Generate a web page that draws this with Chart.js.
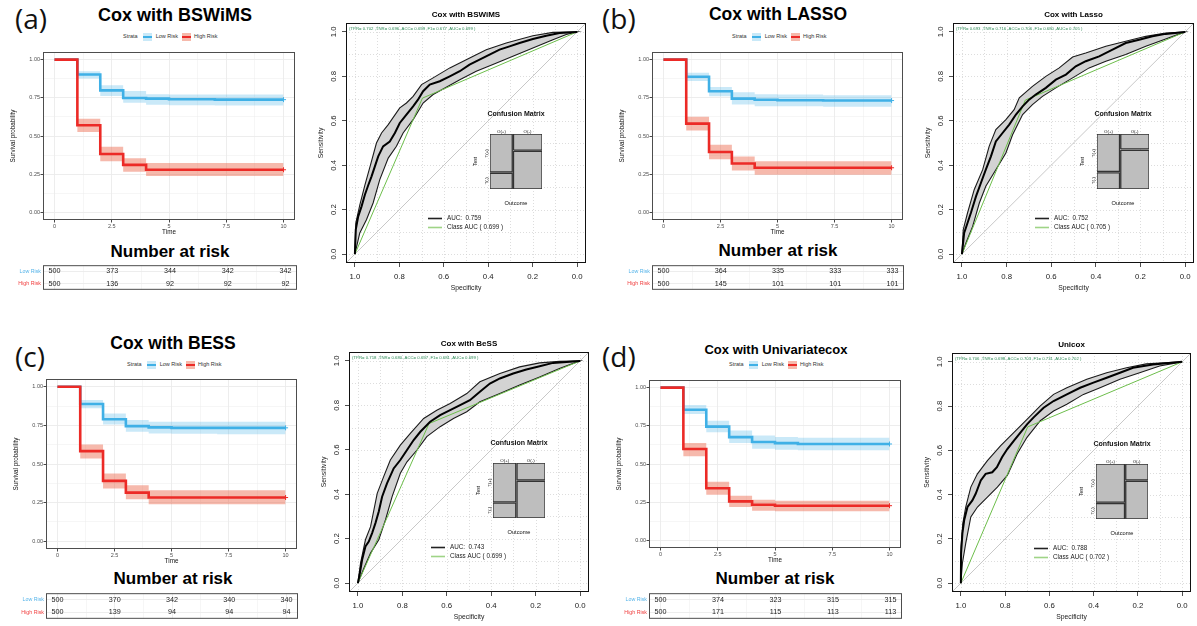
<!DOCTYPE html>
<html>
<head>
<meta charset="utf-8">
<title>Cox models: survival curves and ROC</title>
<script src="https://cdn.jsdelivr.net/npm/chart.js@4.4.1/dist/chart.umd.min.js"></script>
<style>
  body { margin: 0; background: #fff; overflow: hidden; }
  #page { position: relative; width: 1197px; height: 626px; overflow: hidden;
          font-family: "Liberation Sans", Arial, sans-serif; }
  #page canvas { position: absolute; }
  .txt { position: absolute; white-space: nowrap; line-height: 1; }
  .tag { font-family: "Open Sans", "Noto Sans", sans-serif; font-size: 28px; color: #111; }
  .ttl { font-weight: bold; color: #000; transform: translate(-50%, -50%); }
  .leg { display: flex; align-items: center; font-size: 5.5px; color: #333; transform: translateY(-50%); }
  .sw { display: inline-block; width: 9px; height: 8px; }
</style>
</head>
<body>
<div id="page"></div>
<script>
// ---------- shared labels / ticks ----------
const panelTags = ['(a)', '(b)', '(c)', '(d)'];
const kmTitles = ['Cox with BSWiMS', 'Cox with LASSO', 'Cox with BESS', 'Cox with Univariatecox'];
const rocTitles = ['Cox with BSWiMS', 'Cox with Lasso', 'Cox with BeSS', 'Unicox'];
const strata = ['Low Risk', 'High Risk'];
const riskTimes = [0, 2.5, 5, 7.5, 10];
const kmXTicks = [0, 2.5, 5, 7.5, 10];
const kmYTicks = [0, 0.25, 0.5, 0.75, 1];
const rocTicks = [0, 0.2, 0.4, 0.6, 0.8, 1];
const metricNames = ['TPR', 'TNR', 'ACC', 'F1', 'AUC'];

// ---------- (a) BSWiMS ----------
const aLowTime = [0, 1, 2, 3, 4, 5, 7, 10];
const aLowSurv = [1, 0.903, 0.799, 0.749, 0.745, 0.741, 0.738, 0.738];
const aLowUpper = [1, 0.924, 0.832, 0.795, 0.773, 0.772, 0.771, 0.771];
const aLowLower = [1, 0.877, 0.762, 0.717, 0.704, 0.702, 0.700, 0.700];
const aHighTime = [0, 1, 2, 3, 4, 10];
const aHighSurv = [1, 0.570, 0.382, 0.311, 0.279, 0.279];
const aHighUpper = [1, 0.613, 0.430, 0.354, 0.324, 0.324];
const aHighLower = [1, 0.527, 0.335, 0.266, 0.238, 0.238];
const aRiskLow = [500, 373, 344, 342, 342];
const aRiskHigh = [500, 136, 92, 92, 92];
const aRocSpec = [1, 0.996, 0.985, 0.97, 0.955, 0.94, 0.925, 0.91, 0.895, 0.873, 0.843, 0.82, 0.798, 0.768, 0.738, 0.716, 0.693, 0.663, 0.618, 0.573, 0.528, 0.484, 0.439, 0.394, 0.349, 0.304, 0.259, 0.199, 0.139, 0.079, 0];
const aRocSens = [0, 0.11, 0.17, 0.215, 0.267, 0.31, 0.35, 0.395, 0.44, 0.485, 0.507, 0.545, 0.59, 0.628, 0.665, 0.695, 0.733, 0.763, 0.778, 0.80, 0.823, 0.853, 0.875, 0.898, 0.92, 0.935, 0.95, 0.968, 0.983, 0.995, 1];
const aUpSpec = [1, 0.996, 0.978, 0.955, 0.93, 0.903, 0.88, 0.85, 0.798, 0.768, 0.738, 0.70, 0.648, 0.573, 0.499, 0.409, 0.319, 0.199, 0.109, 0];
const aUpSens = [0, 0.14, 0.22, 0.31, 0.40, 0.50, 0.545, 0.583, 0.658, 0.68, 0.71, 0.763, 0.793, 0.838, 0.875, 0.92, 0.95, 0.983, 0.998, 1];
const aLoSpec = [1, 0.978, 0.948, 0.918, 0.888, 0.85, 0.813, 0.783, 0.738, 0.693, 0.648, 0.603, 0.528, 0.454, 0.379, 0.289, 0.199, 0.109, 0.049, 0];
const aLoSens = [0, 0.095, 0.155, 0.23, 0.335, 0.432, 0.485, 0.545, 0.605, 0.68, 0.718, 0.743, 0.785, 0.823, 0.853, 0.89, 0.928, 0.965, 0.988, 1];
const aMetrics = [0.702, 0.696, 0.699, 0.677, 0.699];

// ---------- (b) LASSO ----------
const bLowTime = [0, 1, 2, 3, 4, 5, 7, 10];
const bLowSurv = [1, 0.888, 0.793, 0.745, 0.737, 0.734, 0.732, 0.732];
const bLowUpper = [1, 0.914, 0.821, 0.786, 0.773, 0.772, 0.767, 0.767];
const bLowLower = [1, 0.860, 0.760, 0.706, 0.695, 0.694, 0.691, 0.691];
const bHighTime = [0, 1, 2, 3, 4, 10];
const bHighSurv = [1, 0.581, 0.395, 0.320, 0.292, 0.292];
const bHighUpper = [1, 0.626, 0.443, 0.365, 0.335, 0.335];
const bHighLower = [1, 0.536, 0.348, 0.274, 0.246, 0.246];
const bRiskLow = [500, 364, 335, 333, 333];
const bRiskHigh = [500, 145, 101, 101, 101];
const bRocSpec = [1, 0.99, 0.975, 0.96, 0.937, 0.915, 0.893, 0.87, 0.848, 0.818, 0.788, 0.758, 0.728, 0.699, 0.669, 0.624, 0.579, 0.534, 0.49, 0.445, 0.385, 0.325, 0.266, 0.206, 0.146, 0.087, 0];
const bRocSens = [0, 0.095, 0.14, 0.185, 0.26, 0.32, 0.38, 0.44, 0.507, 0.545, 0.583, 0.628, 0.665, 0.695, 0.718, 0.748, 0.785, 0.808, 0.845, 0.868, 0.89, 0.92, 0.95, 0.965, 0.98, 0.991, 1];
const bUpSpec = [1, 0.994, 0.975, 0.945, 0.907, 0.878, 0.848, 0.803, 0.766, 0.743, 0.684, 0.624, 0.564, 0.504, 0.445, 0.355, 0.266, 0.176, 0.087, 0];
const bUpSens = [0, 0.11, 0.185, 0.29, 0.38, 0.485, 0.56, 0.605, 0.65, 0.703, 0.755, 0.80, 0.838, 0.887, 0.905, 0.935, 0.958, 0.98, 0.995, 1];
const bLoSpec = [1, 0.982, 0.952, 0.922, 0.893, 0.848, 0.803, 0.773, 0.728, 0.684, 0.639, 0.579, 0.504, 0.43, 0.355, 0.266, 0.176, 0.087, 0];
const bLoSens = [0, 0.05, 0.125, 0.23, 0.305, 0.38, 0.455, 0.537, 0.628, 0.673, 0.71, 0.748, 0.793, 0.838, 0.868, 0.898, 0.935, 0.968, 1];
const bMetrics = [0.693, 0.716, 0.706, 0.680, 0.705];

// ---------- (c) BESS ----------
const cLowTime = [0, 1, 2, 3, 4, 5, 7, 10];
const cLowSurv = [1, 0.888, 0.790, 0.745, 0.737, 0.734, 0.734, 0.734];
const cLowUpper = [1, 0.914, 0.827, 0.784, 0.773, 0.773, 0.773, 0.773];
const cLowLower = [1, 0.860, 0.756, 0.708, 0.698, 0.696, 0.693, 0.693];
const cHighTime = [0, 1, 2, 3, 4, 10];
const cHighSurv = [1, 0.583, 0.391, 0.315, 0.283, 0.283];
const cHighUpper = [1, 0.626, 0.438, 0.363, 0.330, 0.330];
const cHighLower = [1, 0.536, 0.341, 0.272, 0.240, 0.240];
const cRiskLow = [500, 370, 342, 340, 340];
const cRiskHigh = [500, 139, 94, 94, 94];
const cRocSpec = [1, 0.991, 0.981, 0.966, 0.951, 0.936, 0.921, 0.906, 0.891, 0.869, 0.839, 0.809, 0.779, 0.749, 0.719, 0.675, 0.63, 0.585, 0.54, 0.496, 0.451, 0.406, 0.361, 0.301, 0.242, 0.182, 0.122, 0];
const cRocSens = [0, 0.045, 0.105, 0.165, 0.187, 0.225, 0.27, 0.322, 0.389, 0.449, 0.516, 0.554, 0.599, 0.644, 0.681, 0.726, 0.756, 0.778, 0.801, 0.823, 0.861, 0.898, 0.921, 0.943, 0.961, 0.976, 0.991, 1];
const cUpSpec = [1, 0.988, 0.966, 0.943, 0.913, 0.884, 0.854, 0.809, 0.764, 0.704, 0.645, 0.585, 0.51, 0.451, 0.361, 0.272, 0.182, 0.093, 0];
const cUpSens = [0, 0.09, 0.195, 0.254, 0.404, 0.479, 0.554, 0.621, 0.674, 0.741, 0.778, 0.808, 0.853, 0.906, 0.943, 0.973, 0.991, 0.998, 1];
const cLoSpec = [1, 0.973, 0.943, 0.906, 0.876, 0.846, 0.809, 0.779, 0.734, 0.69, 0.63, 0.57, 0.51, 0.451, 0.361, 0.272, 0.182, 0.093, 0];
const cLoSens = [0, 0.067, 0.135, 0.195, 0.284, 0.389, 0.494, 0.546, 0.599, 0.659, 0.704, 0.741, 0.771, 0.816, 0.853, 0.891, 0.928, 0.966, 1];
const cMetrics = [0.718, 0.680, 0.697, 0.681, 0.699];

// ---------- (d) Univariate cox ----------
const dLowTime = [0, 1, 2, 3, 4, 5, 6, 10];
const dLowSurv = [1, 0.855, 0.745, 0.676, 0.644, 0.637, 0.631, 0.631];
const dLowUpper = [1, 0.886, 0.784, 0.719, 0.687, 0.676, 0.672, 0.672];
const dLowLower = [1, 0.827, 0.708, 0.637, 0.600, 0.594, 0.590, 0.590];
const dHighTime = [0, 1, 2, 3, 4, 5, 10];
const dHighSurv = [1, 0.598, 0.341, 0.255, 0.233, 0.227, 0.227];
const dHighUpper = [1, 0.637, 0.384, 0.292, 0.266, 0.259, 0.259];
const dHighLower = [1, 0.551, 0.298, 0.218, 0.194, 0.190, 0.190];
const dRiskLow = [500, 374, 323, 315, 315];
const dRiskHigh = [500, 171, 115, 113, 113];
const dRocSpec = [1, 0.999, 0.993, 0.985, 0.97, 0.948, 0.933, 0.91, 0.888, 0.858, 0.837, 0.814, 0.79, 0.76, 0.73, 0.70, 0.671, 0.626, 0.581, 0.521, 0.461, 0.401, 0.341, 0.281, 0.222, 0.132, 0];
const dRocSens = [0, 0.135, 0.225, 0.284, 0.344, 0.374, 0.404, 0.464, 0.494, 0.501, 0.524, 0.569, 0.606, 0.644, 0.681, 0.719, 0.749, 0.793, 0.823, 0.853, 0.883, 0.906, 0.928, 0.951, 0.973, 0.988, 1];
const dUpSpec = [1, 0.999, 0.991, 0.978, 0.955, 0.925, 0.88, 0.82, 0.76, 0.70, 0.641, 0.581, 0.521, 0.431, 0.341, 0.251, 0.162, 0];
const dUpSens = [0, 0.165, 0.27, 0.344, 0.434, 0.494, 0.554, 0.621, 0.681, 0.741, 0.801, 0.853, 0.883, 0.921, 0.951, 0.973, 0.991, 1];
const dLoSpec = [1, 0.993, 0.978, 0.955, 0.925, 0.88, 0.835, 0.79, 0.746, 0.701, 0.641, 0.581, 0.521, 0.446, 0.371, 0.281, 0.192, 0.102, 0];
const dLoSens = [0, 0.09, 0.18, 0.299, 0.344, 0.389, 0.434, 0.487, 0.584, 0.659, 0.734, 0.778, 0.808, 0.853, 0.883, 0.921, 0.951, 0.981, 1];
const dMetrics = [0.706, 0.698, 0.703, 0.731, 0.702];

const aucValues = [0.759, 0.752, 0.743, 0.788];
const positiveShare = [0.44, 0.445, 0.45, 0.56];   // width of the O(+) column in the mosaic

// ---------- per-panel tables built from the arrays ----------
const kmPanels = [
  {lowTime: aLowTime, lowSurv: aLowSurv, lowUp: aLowUpper, lowLo: aLowLower, highTime: aHighTime, highSurv: aHighSurv, highUp: aHighUpper, highLo: aHighLower, riskLow: aRiskLow, riskHigh: aRiskHigh},
  {lowTime: bLowTime, lowSurv: bLowSurv, lowUp: bLowUpper, lowLo: bLowLower, highTime: bHighTime, highSurv: bHighSurv, highUp: bHighUpper, highLo: bHighLower, riskLow: bRiskLow, riskHigh: bRiskHigh},
  {lowTime: cLowTime, lowSurv: cLowSurv, lowUp: cLowUpper, lowLo: cLowLower, highTime: cHighTime, highSurv: cHighSurv, highUp: cHighUpper, highLo: cHighLower, riskLow: cRiskLow, riskHigh: cRiskHigh},
  {lowTime: dLowTime, lowSurv: dLowSurv, lowUp: dLowUpper, lowLo: dLowLower, highTime: dHighTime, highSurv: dHighSurv, highUp: dHighUpper, highLo: dHighLower, riskLow: dRiskLow, riskHigh: dRiskHigh}
];
const rocPanels = [
  {spec: aRocSpec, sens: aRocSens, upSpec: aUpSpec, upSens: aUpSens, loSpec: aLoSpec, loSens: aLoSens, metrics: aMetrics},
  {spec: bRocSpec, sens: bRocSens, upSpec: bUpSpec, upSens: bUpSens, loSpec: bLoSpec, loSens: bLoSens, metrics: bMetrics},
  {spec: cRocSpec, sens: cRocSens, upSpec: cUpSpec, upSens: cUpSens, loSpec: cLoSpec, loSens: cLoSens, metrics: cMetrics},
  {spec: dRocSpec, sens: dRocSens, upSpec: dUpSpec, upSens: dUpSens, loSpec: dLoSpec, loSens: dLoSens, metrics: dMetrics}
];

// ---------- layout (pixel boxes of each plot area) ----------
const layout = [
  {tag: [15, 3.5], title: [175, 15, 18], legend: [123, 37], nar: [170, 251], km: [43, 52, 296, 220], risk: [43, 262, 297, 293], roc: [346, 23, 586, 263]},
  {tag: [602, 3.5], title: [778, 15, 17.5], legend: [732, 37], nar: [778, 250], km: [652, 52, 904, 220], risk: [652, 262, 904, 293], roc: [953, 23, 1194, 263]},
  {tag: [15, 341.5], title: [173, 344, 17.5], legend: [127, 365], nar: [173, 578], km: [46, 379, 298, 549], risk: [46, 590, 298, 622], roc: [349, 352, 589, 592]},
  {tag: [602, 341.5], title: [776, 349, 13], legend: [729, 365], nar: [775, 578], km: [649, 380, 902, 548], risk: [649, 590, 902, 622], roc: [952, 353, 1191, 592]}
];

const FONT = '"Liberation Sans", Arial, Helvetica, sans-serif';
const BLUE = '#3fb0e6', BLUE_BAND = 'rgba(63,176,230,0.28)', BLUE_SOLID = '#c9e9f8';
const RED = '#ec2a26', RED_BAND = 'rgba(235,100,70,0.45)', RED_SOLID = '#f6b9ab';
const GREEN = '#6dbe4b';
const page = document.getElementById('page');

const xy = (xs, ys) => xs.map((x, k) => ({x: x, y: ys[k]}));
const withMid = t => t.flatMap((v, k) => k ? [(v + t[k - 1]) / 2, v] : [v]);
const kmXGrid = withMid(kmXTicks), kmYGrid = withMid(kmYTicks), rocGrid = withMid(rocTicks);
const rocLim = [-0.04, 1.04];

function addCanvas(left, top, w, h) {
  const c = document.createElement('canvas');
  c.width = w; c.height = h;
  c.style.left = left + 'px'; c.style.top = top + 'px';
  c.style.width = w + 'px'; c.style.height = h + 'px';
  page.appendChild(c);
  return c;
}
function addText(html, x, y, cls, css) {
  const d = document.createElement('div');
  d.className = 'txt ' + cls;
  d.innerHTML = html;
  d.style.left = x + 'px'; d.style.top = y + 'px';
  if (css) d.style.cssText += css;
  page.appendChild(d);
}
function font(size, bold) { return (bold ? 'bold ' : '') + size + 'px ' + FONT; }

const base = {
  responsive: false, animation: false, devicePixelRatio: 1, events: [],
  plugins: {legend: {display: false}, tooltip: {enabled: false}}
};

// ---------- Kaplan-Meier ----------
function kmX(height, showTicks) {
  return {
    type: 'linear', min: -0.5, max: 10.5,
    afterBuildTicks: s => { s.ticks = kmXGrid.map(v => ({value: v})); },
    afterFit: s => { s.height = height; },
    ticks: {display: showTicks, callback: v => kmXTicks.includes(v) ? String(v) : '',
            font: {size: 5.5, family: FONT}, color: '#4d4d4d', padding: 0.5, maxRotation: 0, autoSkip: false},
    grid: {color: '#ebebeb', lineWidth: c => (c.tick && kmXTicks.includes(c.tick.value)) ? 0.9 : 0.45,
           drawTicks: showTicks, tickLength: 2.5,
           tickColor: c => (c.tick && kmXTicks.includes(c.tick.value)) ? '#333' : 'rgba(0,0,0,0)'},
    border: {display: false}
  };
}
function kmLine(t, s, color) {
  return {data: xy(t, s), borderColor: color, borderWidth: 2.6, stepped: true, fill: false,
          pointStyle: 'cross', pointBorderColor: color, pointBorderWidth: 1,
          pointRadius: t.map((_, k) => k === t.length - 1 ? 2.5 : 0)};
}
function kmBand(t, s, color, fill) {
  return {data: xy(t, s), borderColor: 'rgba(0,0,0,0)', borderWidth: 0, pointRadius: 0,
          stepped: true, fill: fill, backgroundColor: color};
}
const kmDecor = {
  id: 'kmDecor',
  afterDatasetsDraw(chart) {
    const {ctx, chartArea: a} = chart;
    ctx.save();
    ctx.strokeStyle = '#4d4d4d'; ctx.lineWidth = 1;
    ctx.strokeRect(a.left + 0.5, a.top + 0.5, a.width - 1, a.height - 1);
    ctx.fillStyle = '#111'; ctx.font = font(6.3); ctx.textAlign = 'center'; ctx.textBaseline = 'middle';
    ctx.fillText('Time', (a.left + a.right) / 2, a.bottom + 12.5);
    ctx.translate(a.left - 30, (a.top + a.bottom) / 2);
    ctx.rotate(-Math.PI / 2);
    ctx.fillText('Survival probability', 0, 0);
    ctx.restore();
  }
};
function kmChart(i) {
  const d = kmPanels[i], [L, T, R, B] = layout[i].km;
  const cv = addCanvas(L - 40, T - 6, R - L + 44, B - T + 26);
  new Chart(cv, {
    type: 'line',
    data: {datasets: [
      kmLine(d.highTime, d.highSurv, RED),
      kmLine(d.lowTime, d.lowSurv, BLUE),
      kmBand(d.highTime, d.highUp, RED_BAND, '+1'),
      kmBand(d.highTime, d.highLo, RED_BAND, false),
      kmBand(d.lowTime, d.lowUp, BLUE_BAND, '+1'),
      kmBand(d.lowTime, d.lowLo, BLUE_BAND, false)
    ]},
    options: Object.assign({}, base, {
      layout: {padding: {left: 0, top: 6, right: 4, bottom: 0}},
      scales: {
        x: kmX(20, true),
        y: {type: 'linear', min: -0.05, max: 1.05,
            afterBuildTicks: s => { s.ticks = kmYGrid.map(v => ({value: v})); },
            afterFit: s => { s.width = 40; },
            ticks: {callback: v => kmYTicks.includes(v) ? v.toFixed(2) : '', font: {size: 5.5, family: FONT},
                    color: '#4d4d4d', padding: 0.5, autoSkip: false},
            grid: {color: '#ebebeb', lineWidth: c => (c.tick && kmYTicks.includes(c.tick.value)) ? 0.9 : 0.45,
                   tickLength: 2.5, tickColor: c => (c.tick && kmYTicks.includes(c.tick.value)) ? '#333' : 'rgba(0,0,0,0)'},
            border: {display: false}}
      }
    }),
    plugins: [kmDecor]
  });
}

// ---------- number-at-risk table ----------
function riskDecor(d) {
  return {
    id: 'riskDecor',
    afterDatasetsDraw(chart) {
      const {ctx, chartArea: a, scales: {x, y}} = chart;
      ctx.save();
      ctx.strokeStyle = '#4d4d4d'; ctx.lineWidth = 1;
      ctx.strokeRect(a.left + 0.5, a.top + 0.5, a.width - 1, a.height - 1);
      ctx.fillStyle = '#1a1a1a'; ctx.font = font(7.2); ctx.textAlign = 'center'; ctx.textBaseline = 'middle';
      riskTimes.forEach((t, k) => {
        ctx.fillText(String(d.riskLow[k]), x.getPixelForValue(t), y.getPixelForValue(0));
        ctx.fillText(String(d.riskHigh[k]), x.getPixelForValue(t), y.getPixelForValue(1));
      });
      ctx.restore();
    }
  };
}
function riskChart(i) {
  const d = kmPanels[i], [L, T, R, B] = layout[i].risk;
  const cv = addCanvas(L - 42, T - 2, R - L + 46, B - T + 4);
  new Chart(cv, {
    type: 'line',
    data: {datasets: []},
    options: Object.assign({}, base, {
      layout: {padding: {left: 0, top: 2, right: 4, bottom: 2}},
      scales: {
        x: kmX(0, false),
        y: {type: 'category', labels: strata, offset: true,
            afterFit: s => { s.width = 42; },
            ticks: {color: c => c.index === 0 ? '#56b4e9' : '#f03c3c', font: {size: 5.3, family: FONT}, padding: 2},
            grid: {color: '#ebebeb', lineWidth: 0.9, drawTicks: false},
            border: {display: false}}
      }
    }),
    plugins: [riskDecor(d)]
  });
}

// ---------- ROC ----------
function rocDecor(i) {
  const r = rocPanels[i];
  return {
    id: 'rocDecor',
    beforeDatasetsDraw(chart) {
      const {ctx, chartArea: a, scales: {x, y}} = chart;
      ctx.save();
      ctx.strokeStyle = '#d4d4d4'; ctx.lineWidth = 0.8; ctx.setLineDash([1, 2]);
      rocGrid.forEach(v => {
        const px = Math.round(x.getPixelForValue(v)) + 0.5, py = Math.round(y.getPixelForValue(v)) + 0.5;
        ctx.beginPath(); ctx.moveTo(px, a.top); ctx.lineTo(px, a.bottom); ctx.stroke();
        ctx.beginPath(); ctx.moveTo(a.left, py); ctx.lineTo(a.right, py); ctx.stroke();
      });
      ctx.restore();
    },
    afterDatasetsDraw(chart) {
      const {ctx, chartArea: a, scales: {y}} = chart;
      ctx.save();
      ctx.strokeStyle = '#111'; ctx.lineWidth = 1;
      ctx.strokeRect(a.left + 0.5, a.top + 0.5, a.width - 1, a.height - 1);
      ctx.fillStyle = '#222'; ctx.textAlign = 'center'; ctx.textBaseline = 'middle';
      // y tick labels, rotated as in base R
      ctx.font = font(7.8);
      rocTicks.forEach(v => {
        ctx.save();
        ctx.translate(a.left - 12.5, y.getPixelForValue(v));
        ctx.rotate(-Math.PI / 2);
        ctx.fillText(v.toFixed(1), 0, 0);
        ctx.restore();
      });
      ctx.font = font(6.8);
      ctx.fillText('Specificity', (a.left + a.right) / 2, a.bottom + 25.3);
      ctx.save();
      ctx.translate(a.left - 25.3, (a.top + a.bottom) / 2);
      ctx.rotate(-Math.PI / 2);
      ctx.fillText('Sensitivity', 0, 0);
      ctx.restore();
      ctx.fillStyle = '#000'; ctx.font = font(8, true);
      ctx.fillText(rocTitles[i], (a.left + a.right) / 2, a.top - 8);
      // metrics line
      ctx.fillStyle = '#2e8b57'; ctx.font = font(4.3); ctx.textAlign = 'left';
      const parts = metricNames.map((n, k) => n + '= ' + r.metrics[k].toFixed(3));
      ctx.fillText('(' + parts.join(' ,') + ' )', a.left + 3, a.top + 5.5);
      // legend
      ctx.lineWidth = 1.6; ctx.strokeStyle = '#222';
      ctx.beginPath(); ctx.moveTo(a.left + 82, a.top + 195.5); ctx.lineTo(a.left + 96, a.top + 195.5); ctx.stroke();
      ctx.strokeStyle = '#9fd486';
      ctx.beginPath(); ctx.moveTo(a.left + 82, a.top + 204.5); ctx.lineTo(a.left + 96, a.top + 204.5); ctx.stroke();
      ctx.fillStyle = '#222'; ctx.font = font(6.3);
      ctx.fillText('AUC:  ' + aucValues[i].toFixed(3), a.left + 101, a.top + 195.5);
      ctx.fillText('Class AUC ( ' + r.metrics[4].toFixed(3) + ' )', a.left + 101, a.top + 204.5);
      ctx.restore();
    }
  };
}
function rocAxis(isX) {
  return {
    type: 'linear', min: rocLim[0], max: rocLim[1], reverse: isX,
    afterBuildTicks: s => { s.ticks = rocTicks.map(v => ({value: v})); },
    afterFit: s => { if (isX) s.height = 34; else s.width = 40; },
    ticks: {display: isX, callback: v => v.toFixed(1), font: {size: 7.8, family: FONT}, color: '#222',
            padding: 5, maxRotation: 0, autoSkip: false},
    grid: {drawOnChartArea: false, tickLength: 4, tickColor: '#222', tickWidth: 0.8},
    border: {display: false}
  };
}
function rocChart(i) {
  const r = rocPanels[i], [L, T, R, B] = layout[i].roc;
  const band = xy(r.upSpec.concat(r.loSpec.slice().reverse()), r.upSens.concat(r.loSens.slice().reverse()));
  const cv = addCanvas(L - 40, T - 22, R - L + 46, B - T + 56);
  new Chart(cv, {
    type: 'line',
    data: {datasets: [
      {data: xy(r.spec, r.sens), borderColor: '#000', borderWidth: 2, pointRadius: 0, fill: false},
      {data: xy([1, r.metrics[1], 0], [0, r.metrics[0], 1]), borderColor: GREEN, borderWidth: 1, pointRadius: 0, fill: false},
      {data: band, borderColor: '#1a1a1a', borderWidth: 1.1, pointRadius: 0, fill: 'shape', backgroundColor: '#d3d3d3'},
      {data: xy([rocLim[1], rocLim[0]], [1 - rocLim[1], 1 - rocLim[0]]), borderColor: '#c8c8c8', borderWidth: 1, pointRadius: 0, fill: false}
    ]},
    options: Object.assign({}, base, {
      layout: {padding: {left: 0, top: 22, right: 6, bottom: 0}},
      scales: {x: rocAxis(true), y: rocAxis(false)}
    }),
    plugins: [rocDecor(i)]
  });
}

// ---------- confusion-matrix mosaic ----------
function mosaicDecor(i) {
  const p = positiveShare[i], tpr = rocPanels[i].metrics[0];
  return {
    id: 'mosaicDecor',
    afterDatasetsDraw(chart) {
      const {ctx, chartArea: a, scales: {x, y}} = chart;
      const cx = (a.left + a.right) / 2;
      ctx.save();
      ctx.fillStyle = '#111'; ctx.textAlign = 'center'; ctx.textBaseline = 'middle';
      ctx.font = font(7, true);
      ctx.fillText('Confusion Matrix', cx, a.top - 19.5);
      ctx.font = font(5.7);
      ctx.fillText('Outcome', cx, a.bottom + 14);
      ctx.font = font(4.4);
      ctx.fillText('O(+)', x.getPixelForValue(p / 2), a.top - 2.3);
      ctx.fillText('O(-)', x.getPixelForValue((1 + p) / 2), a.top - 2.3);
      const rot = (txt, px, py) => {
        ctx.save(); ctx.translate(px, py); ctx.rotate(-Math.PI / 2); ctx.fillText(txt, 0, 0); ctx.restore();
      };
      rot('T(+)', a.left - 3, y.getPixelForValue(1 - tpr / 2));
      rot('T(-)', a.left - 3, y.getPixelForValue((1 - tpr) / 2));
      ctx.font = font(5);
      rot('Test', a.left - 14, (a.top + a.bottom) / 2);
      ctx.restore();
    }
  };
}
function mosaicChart(i) {
  const [L, T] = layout[i].roc;
  const p = positiveShare[i], tpr = rocPanels[i].metrics[0], tnr = rocPanels[i].metrics[1];
  const g = 0.012;
  const tiles = [
    [0, p - g, 1 - tpr + g, 1], [0, p - g, 0, 1 - tpr - g],
    [p + g, 1, tnr + g, 1], [p + g, 1, 0, tnr - g]
  ];
  const cv = addCanvas(L + 144 - 30, T + 111 - 28, 52 + 40, 55 + 48);
  new Chart(cv, {
    type: 'line',
    data: {datasets: tiles.map(([x0, x1, y0, y1]) => ({
      data: xy([x0, x1, x1, x0, x0], [y0, y0, y1, y1, y0]),
      borderColor: '#333', borderWidth: 1.3, pointRadius: 0, fill: 'shape', backgroundColor: '#bebebe'
    }))},
    options: Object.assign({}, base, {
      layout: {padding: {left: 30, top: 28, right: 10, bottom: 20}},
      scales: {x: {type: 'linear', min: 0, max: 1, display: false}, y: {type: 'linear', min: 0, max: 1, display: false}}
    }),
    plugins: [mosaicDecor(i)]
  });
}

// ---------- HTML text ----------
function swatch(band, line) {
  return '<span class="sw" style="background:linear-gradient(' + band + ' 0 36%,' + line + ' 36% 64%,' + band + ' 64%)"></span>';
}
for (let i = 0; i < 4; i++) {
  const lay = layout[i];
  addText(panelTags[i], lay.tag[0], lay.tag[1], 'tag');
  addText(kmTitles[i], lay.title[0], lay.title[1], 'ttl', 'font-size:' + lay.title[2] + 'px');
  addText('Strata<span style="width:5px"></span>' + swatch(BLUE_SOLID, BLUE) + '<span style="width:4px"></span>' + strata[0]
          + '<span style="width:4px"></span>' + swatch(RED_SOLID, RED) + '<span style="width:3px"></span>' + strata[1],
          lay.legend[0], lay.legend[1], 'leg');
  addText('Number at risk', lay.nar[0], lay.nar[1], 'ttl', 'font-size:17px');
  kmChart(i);
  riskChart(i);
  rocChart(i);
  mosaicChart(i);
}
</script>
</body>
</html>
